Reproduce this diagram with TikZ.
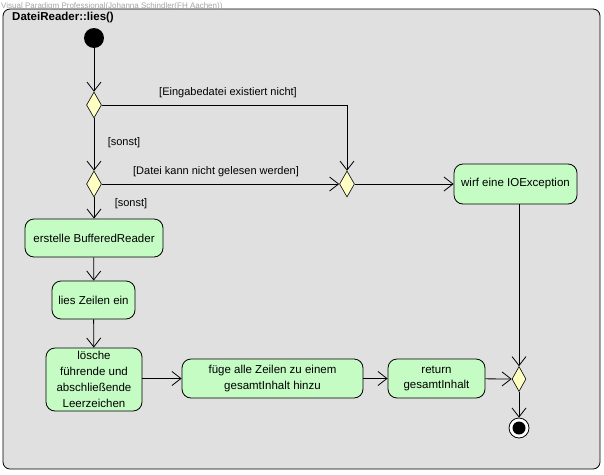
\documentclass[tikz,border=0pt]{standalone}
\usepackage{fontspec}
\setmainfont{Liberation Sans}
\usetikzlibrary{arrows.meta,shapes.geometric}
\definecolor{bggray}{HTML}{E0E0E0}
\definecolor{actgreen}{HTML}{C4FCC4}
\definecolor{decyellow}{HTML}{FFFFC4}
\tikzset{
  act/.style={draw=black, fill=actgreen, rounded corners=9pt, line width=0.8pt, align=center, inner sep=0pt, font=\fontsize{11.5}{15.8}\selectfont},
  dec/.style={draw=black, fill=decyellow, line width=0.6pt, inner sep=0pt, minimum width=0pt},
  flow/.style={line width=0.8pt, -{Straight Barb[length=9pt,width=14pt,line width=0.8pt]}},
  guard/.style={font=\fontsize{11}{12}\selectfont, inner sep=0pt}
}
\begin{document}
\begin{tikzpicture}[x=1pt,y=-1pt]
\useasboundingbox (0,0) rectangle (604,474);
\fill[white] (0,0) rectangle (604,474);
\draw[fill=bggray, line width=0.8pt, rounded corners=7pt] (3,9) rectangle (600,469);
\node[anchor=west, text=gray!70, font=\fontsize{8}{8}\selectfont, inner sep=0pt] (wm) at (1,6) {Visual Paradigm Professional(Johanna Schindler(FH Aachen))};
\node[anchor=west, font=\bfseries\fontsize{11.5}{12}\selectfont, inner sep=0pt] (title) at (12,18) {DateiReader::lies()};
% nodes
\node[circle, fill=black, minimum size=20pt, inner sep=0pt] (start) at (94,38) {};
\node[dec, diamond, minimum width=15pt, minimum height=26pt] (d1) at (94,105) {};
\node[dec, diamond, minimum width=15pt, minimum height=26pt] (d2) at (94,184) {};
\node[dec, diamond, minimum width=15pt, minimum height=26pt] (d3) at (347,184) {};
\node[dec, diamond, minimum width=14pt, minimum height=25pt] (d4) at (519,379) {};
\node[act, minimum width=123pt, minimum height=40pt] (ioe) at (515.5,184) {wirf eine IOException};
\node[act, minimum width=138pt, minimum height=38pt] (buf) at (94,238) {erstelle BufferedReader};
\node[act, minimum width=83pt, minimum height=38pt] (lies) at (93.5,300) {lies Zeilen ein};
\node[act, minimum width=96pt, minimum height=63pt] (lo) at (94,379.5) {lösche\\führende und\\abschließende\\Leerzeichen};
\node[act, minimum width=181pt, minimum height=39pt] (fuege) at (272.5,378.5) {füge alle Zeilen zu einem\\gesamtInhalt hinzu};
\node[act, minimum width=97pt, minimum height=39pt] (ret) at (436.5,378.5) {return\\gesamtInhalt};
\node[circle, draw=black, fill=white, line width=0.8pt, minimum size=20pt, inner sep=0pt] (end) at (519,428) {};
\node[circle, fill=black, minimum size=13pt, inner sep=0pt] (endin) at (519,428) {};
% guards
\node[guard] (g1) at (124,143) {[sonst]};
\node[guard] (g2) at (228,93) {[Eingabedatei existiert nicht]};
\node[guard] (g3) at (216,172) {[Datei kann nicht gelesen werden]};
\node[guard] (g4) at (131,204) {[sonst]};
% edges
\draw[flow] (start) -- (d1);
\draw[flow] (d1) -- (d2);
\draw[flow] (d1.east) -| (d3.north);
\draw[flow] (d2.east) -- (d3.west);
\draw[flow] (d2) -- (buf);
\draw[flow] (d3.east) -- (ioe.west);
\draw[flow] (buf) -- (lies);
\draw[flow] (lies) -- (lo);
\draw[flow] (lo.east |- fuege) -- (fuege.west);
\draw[flow] (fuege) -- (ret);
\draw[flow] (ret) -- (d4.west);
\draw[flow] (ioe.south -| d4) -- (d4.north);
\draw[flow] (d4) -- (end);
\end{tikzpicture}
\end{document}
